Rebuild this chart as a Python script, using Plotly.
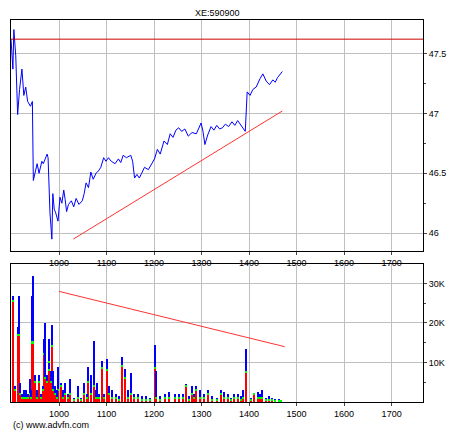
import plotly.graph_objects as go

# cours
px_x = [899, 903, 905, 909, 913, 917, 922, 926, 930, 934, 940, 944, 946, 950, 954, 958, 961, 964,
        967, 971, 975, 977, 981, 985, 987, 990, 993, 998, 1002, 1006, 1010, 1013, 1016, 1020, 1026,
        1031, 1036, 1042, 1049, 1053, 1057, 1062, 1067, 1072, 1078, 1083, 1088, 1094, 1099, 1104,
        1110, 1118, 1125, 1130, 1135, 1142, 1151, 1155, 1159, 1164, 1169, 1174, 1180, 1188, 1196,
        1201, 1207, 1213, 1221, 1228, 1234, 1240, 1246, 1252, 1258, 1265, 1272, 1280, 1289, 1294,
        1299, 1303, 1307, 1313, 1320, 1326, 1332, 1338, 1344, 1350, 1357, 1364, 1370, 1376, 1381,
        1386, 1392, 1396, 1402, 1408, 1415, 1423, 1429, 1436, 1443, 1450, 1455, 1460, 1466, 1470]
px_y = [47.62, 47.37, 47.70, 47.48, 46.99, 47.20, 47.37, 47.15, 47.22, 47.10, 47.06, 47.10, 46.44,
        46.52, 46.58, 46.50, 46.55, 46.60, 46.58, 46.62, 46.66, 46.63, 46.17, 45.95, 46.33, 46.20,
        46.17, 46.10, 46.30, 46.25, 46.36, 46.28, 46.18, 46.24, 46.27, 46.22, 46.29, 46.24, 46.27,
        46.33, 46.42, 46.38, 46.51, 46.45, 46.50, 46.52, 46.55, 46.63, 46.60, 46.63, 46.60, 46.58,
        46.62, 46.59, 46.65, 46.63, 46.65, 46.60, 46.46, 46.49, 46.46, 46.50, 46.55, 46.53, 46.58,
        46.62, 46.70, 46.66, 46.77, 46.74, 46.83, 46.80, 46.86, 46.88, 46.85, 46.87, 46.81, 46.84,
        46.83, 46.88, 46.92, 46.85, 46.74, 46.82, 46.89, 46.86, 46.90, 46.87, 46.88, 46.91, 46.89,
        46.93, 46.90, 46.94, 46.91, 46.88, 46.85, 47.18, 47.15, 47.20, 47.22, 47.29, 47.33, 47.27,
        47.24, 47.28, 47.26, 47.30, 47.33, 47.35]

# volumes (K)
vol_x = [903, 908, 913, 915, 918, 922, 926, 930, 934, 938, 941, 944, 946, 950, 954, 958, 962, 967,
         969, 971, 975, 978, 980, 983, 985, 988, 992, 995, 998, 1004, 1008, 1012, 1018, 1024, 1032,
         1040, 1046, 1052, 1058, 1062, 1068, 1073, 1077, 1080, 1085, 1090, 1095, 1101, 1106, 1112,
         1120, 1126, 1132, 1139, 1145, 1152, 1158, 1166, 1175, 1184, 1192, 1202, 1205, 1212, 1224,
         1232, 1245, 1252, 1260, 1267, 1274, 1279, 1284, 1289, 1296, 1305, 1313, 1322, 1332, 1340,
         1348, 1356, 1362, 1368, 1376, 1382, 1388, 1394, 1404, 1411, 1418, 1424, 1428, 1436, 1442,
         1448, 1455, 1462, 1468]
vol_tot = [27, 4, 19, 27, 5, 2, 3, 3, 2, 6, 3, 27, 32, 7, 3, 7, 2, 4, 16, 20, 7, 16, 10, 8, 19.5,
           8, 4, 3, 9, 5, 3, 5, 2, 6, 1, 4, 1, 5, 2, 9, 7, 15.5, 3, 5, 2, 10.5, 2, 11, 4, 3, 2, 1.5,
           11.5, 8.5, 3, 7.5, 2, 2, 1.5, 1.5, 1, 14.5, 8, 1.5, 2, 2.5, 2, 2, 2, 4.5, 1.5, 4, 2, 4, 3,
           2, 3, 1.5, 1, 3, 2.5, 2, 1, 2, 2, 1.5, 3, 13.5, 1, 2, 2.5, 2, 3, 1, 1.5, 1, 0.8, 0.7, 0.5]
vol_red = [25.5, 3, 17, 17, 2, 1, 1, 1, 1, 2, 1, 15, 15, 5, 1, 5, 1, 3, 12, 6, 5, 10, 8, 5, 14, 3,
           2, 1, 3, 4, 1, 2, 1, 2, 0.5, 1, 0.5, 2, 1, 5, 2, 4, 1, 1, 1, 8.5, 1, 8, 2, 1, 1, 0.5, 9,
           6, 1, 2, 1, 1, 0.5, 0.5, 0.5, 8.5, 1, 0.5, 1, 1, 1, 1, 1, 4, 0.5, 2, 1, 3, 1, 1, 2, 0.5,
           0.5, 2, 1, 1, 0.5, 1, 1, 0.5, 1, 7.5, 0.5, 2, 1, 1, 1, 0.5, 0.5, 0.5, 0.3, 0.2, 0.2]
green = [0.4] * len(vol_x)
vol_blue = [max(t - r - 0.4, 0) for t, r in zip(vol_tot, vol_red)]

fig = go.Figure()
fig.add_trace(go.Scatter(x=px_x, y=px_y, mode='lines', line=dict(color='#0000ff', width=1),
                         xaxis='x', yaxis='y'))
fig.add_trace(go.Scatter(x=[899, 1766], y=[47.62, 47.62], mode='lines',
                         line=dict(color='#cc0000', width=1), xaxis='x', yaxis='y'))
fig.add_trace(go.Scatter(x=[1030, 1470], y=[45.95, 47.02], mode='lines',
                         line=dict(color='#ff3333', width=1), xaxis='x', yaxis='y'))
fig.add_trace(go.Bar(x=vol_x, y=vol_red, marker=dict(color='#ff0000', line_width=0), width=2.2,
                     xaxis='x2', yaxis='y2'))
fig.add_trace(go.Bar(x=vol_x, y=green, marker=dict(color='#00ff00', line_width=0), width=2.2,
                     xaxis='x2', yaxis='y2'))
fig.add_trace(go.Bar(x=vol_x, y=vol_blue, marker=dict(color='#0000ff', line_width=0), width=2.2,
                     xaxis='x2', yaxis='y2'))
fig.add_trace(go.Scatter(x=[1000, 1475], y=[28, 14], mode='lines',
                         line=dict(color='#ff3333', width=1), xaxis='x2', yaxis='y2'))

ax = dict(range=[899, 1766], tickvals=[1000, 1100, 1200, 1300, 1400, 1500, 1600, 1700],
          showgrid=True, gridcolor='#c0c0c0', gridwidth=1, showline=True, linecolor='black',
          mirror=True, ticks='outside', ticklen=3, tickfont=dict(size=9, color='black'),
          zeroline=False)
yax = dict(side='right', showgrid=True, gridcolor='#c0c0c0', showline=True, linecolor='black',
           mirror=True, ticks='outside', ticklen=3, zeroline=False,
           tickfont=dict(size=9, color='black'))
# la page a une marge de 8px : figure réduite pour rester visible
fig.update_layout(
    width=440, height=426, showlegend=False, barmode='stack', bargap=0,
    paper_bgcolor='white', plot_bgcolor='white',
    margin=dict(l=2, r=24, t=12, b=32),
    font=dict(family='Liberation Sans', size=9, color='black'),
    xaxis=dict(ax, anchor='y'),
    xaxis2=dict(ax, anchor='y2'),
    yaxis=dict(yax, domain=[0.395, 1], range=[45.85, 47.78],
               tickvals=[46, 46.5, 47, 47.5], ticktext=['46', '46.5', '47', '47.5'],
               minor=dict(tickvals=[46.25, 46.75, 47.25], ticks='outside', ticklen=2,
                          showgrid=False)),
    yaxis2=dict(yax, domain=[0, 0.362], range=[0, 35],
                tickvals=[10, 20, 30], ticktext=['10K', '20K', '30K'],
                minor=dict(tickvals=[5, 15, 25], ticks='outside', ticklen=2, showgrid=False)),
    annotations=[
        dict(text='XE:590900', x=0.5, y=1, xref='paper', yref='paper', xanchor='center',
             yanchor='bottom', showarrow=False, font=dict(size=9)),
        dict(text='(c) www.advfn.com', x=0.0, y=-0.06, xref='paper', yref='paper',
             xanchor='left', yanchor='middle', showarrow=False, font=dict(size=9)),
    ],
)

fig.write_html("out.html")
